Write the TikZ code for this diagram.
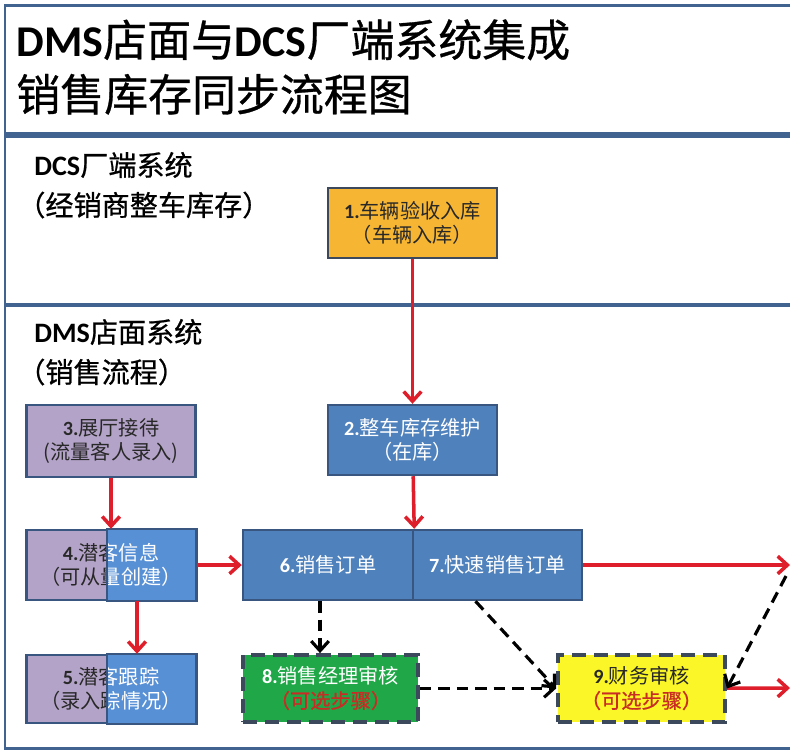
\documentclass[tikz,border=0pt]{standalone}
\usepackage{fontspec}
\setmainfont{Noto Sans CJK SC}
\newfontfamily\heavy[FakeBold=0.7]{Noto Sans CJK SC}
\newfontfamily\lat{Carlito}
\usepackage{tikz}
\usetikzlibrary{arrows.meta,calc}
\definecolor{framecol}{RGB}{65,99,143}
\definecolor{boxline}{RGB}{56,86,128}
\definecolor{darkline}{RGB}{60,72,92}
\definecolor{orangebox}{RGB}{246,182,52}
\definecolor{bluebox}{RGB}{79,129,189}
\definecolor{skyblue}{RGB}{88,144,214}
\definecolor{lilac}{RGB}{180,163,200}
\definecolor{greenbox}{RGB}{32,168,72}
\definecolor{yellowbox}{RGB}{250,246,40}
\definecolor{redline}{RGB}{222,30,42}
\definecolor{redtext}{RGB}{200,44,36}
\definecolor{darktext}{RGB}{40,40,40}
\newcommand{\nb}[1]{{\lat\bfseries #1}}
\tikzstyle{box}=[draw=boxline, line width=1.4pt, minimum width=3.38cm, minimum height=1.4cm, inner sep=0pt, align=center, font=\fontsize{11.5}{13.8}\selectfont]
\tikzstyle{optbox}=[box, draw=darkline, line width=2.2pt, dash pattern=on 8pt off 4.5pt, minimum height=1.34cm]
\tikzstyle{redarr}=[draw=redline, line width=2pt, -{Straight Barb[length=5.5pt,width=10pt]}]
\tikzstyle{dasharr}=[draw=black, line width=1.8pt, dash pattern=on 6.5pt off 4pt, -{Straight Barb[length=5.5pt,width=10pt]}]
\tikzstyle{label}=[anchor=west, inner sep=0pt, font=\heavy\fontsize{16}{20}\selectfont]
\begin{document}
\begin{tikzpicture}[x=0.02cm,y=-0.02cm]
\useasboundingbox (0,0) rectangle (800,755);
\fill[white] (0,0) rectangle (800,755);
\draw[framecol, line width=1.7pt] (790,5) -- (5,5) -- (5,748) -- (790,748);
\draw[framecol, line width=3.2pt] (5,135) -- (790,135);
\draw[framecol, line width=2.2pt] (5,305) -- (790,305);

\node[anchor=west, align=left, inner sep=0pt, font=\heavy\fontsize{25}{31}\selectfont] (title) at (16,67)
  {\nb{DMS}店面与\nb{DCS}厂端系统集成\\销售库存同步流程图};
\node[label] (dcs) at (34,165) {\nb{DCS}厂端系统};
\node[label] (dcsnote) at (17,205) {（经销商整车库存）};
\node[label] (dms) at (34,332) {\nb{DMS}店面系统};
\node[label] (dmsnote) at (17,372) {（销售流程）};

\node[box, draw=darkline, fill=orangebox, text=darktext] (n1) at (412.5,223) {\nb{1.}车辆验收入库\\（车辆入库）};
\node[box, fill=bluebox, text=white] (n2) at (412.5,440) {\nb{2.}整车库存维护\\（在库）};
\node[box, fill=lilac, text=darktext, minimum height=1.44cm] (n3) at (111,441) {\nb{3.}展厅接待\\(流量客人录入)};
\node[box, fill=lilac, text=darktext] (n4) at (111,565) {\nb{4.}潜客信息\\（可从量创建）};
\node[box, fill=lilac, text=darktext, minimum height=1.36cm] (n5) at (111,689) {\nb{5.}潜客跟踪\\（录入踪情况）};
\foreach \n/\txt in {n4/{\nb{4.}潜客信息\\（可从量创建）}, n5/{\nb{5.}潜客跟踪\\（录入踪情况）}} {
  \coordinate (s) at (107,0);
  \begin{scope}
    \clip (s |- \n.north) rectangle (\n.south east);
    \fill[skyblue] (s |- \n.north) rectangle (\n.south east);
    \node[box, draw=none, text=white] at (\n) {\txt};
  \end{scope}
  \draw[boxline, line width=1.4pt] (s |- \n.north) rectangle (\n.south east);
}
\node[box, fill=bluebox, text=white, minimum width=3.4cm] (n6) at (328,565) {\nb{6.}销售订单};
\node[box, fill=bluebox, text=white] (n7) at (497.5,565) {\nb{7.}快速销售订单};
\node[optbox, fill=greenbox, text=white, minimum width=3.5cm] (n8) at (330.5,688.5)
  {\nb{8.}销售经理审核\\{\color{redtext}\heavy（可选步骤）}};
\node[optbox, fill=yellowbox, text=darktext, minimum width=3.34cm] (n9) at (641.5,688.5)
  {\nb{9.}财务审核\\{\color{redtext}\heavy（可选步骤）}};

\coordinate (out1) at (790,565);
\coordinate (out2) at (790,688);
\coordinate (back) at (786,576);

\draw[redarr] (n1) -- (n2);
\draw[redarr] (n2) -- (n6.north east);
\draw[redarr] (n3) -- (n4);
\draw[redarr] (n4) -- (n6);
\draw[redarr] ($(n4.south)+(26,0)$) -- ($(n5.north)+(26,0)$);
\draw[redarr] (n7) -- (out1);
\draw[redarr] (n9) -- (out2);
\draw[dasharr] ($(n6.south)+(-8,0)$) -- ($(n8.north)+(-10.5,0)$);
\draw[dasharr] ($(n7.south)+(-22,0)$) -- (n9.west);
\draw[dasharr] (n8) -- (n9.west);
\draw[dasharr] (back) -- (n9.east);
\end{tikzpicture}
\end{document}
